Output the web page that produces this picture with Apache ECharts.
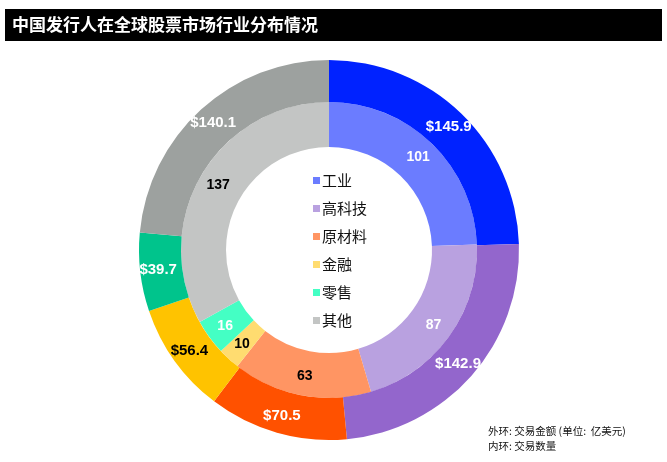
<!DOCTYPE html>
<html>
<head>
<meta charset="utf-8">
<script src="https://cdn.jsdelivr.net/npm/echarts@6/dist/echarts.min.js"></script>
<style>html,body{margin:0;padding:0;background:#fff}#c{width:667px;height:462px}</style>
</head>
<body>
<div id="c"></div>
<script>
const categories = ['工业', '高科技', '原材料', '金融', '零售', '其他'];
const outerValues = [145.9, 142.9, 70.5, 56.4, 39.7, 140.1];
const innerValues = [101, 87, 63, 10, 16, 137];
const outerColors = ['#0022ff', '#9366cc', '#ff5100', '#ffc300', '#00c48c', '#9da19f'];
const innerColors = ['#6b7cff', '#b9a1e0', '#ff9563', '#ffdc70', '#44ffc4', '#c3c5c4'];
const outerLabelColors = ['#fff', '#fff', '#fff', '#000', '#fff', '#fff'];
const innerLabelColors = ['#fff', '#fff', '#000', '#000', '#fff', '#000'];
const titleText = '中国发行人在全球股票市场行业分布情况';
const noteLines = ['外环: 交易金额 (单位:  亿美元)', '内环: 交易数量'];

const numFont = '"Liberation Sans", Arial, sans-serif';
const cjkFont = '"Noto Sans CJK SC", "Liberation Sans", sans-serif';
const center = [329, 250];

const chart = echarts.init(document.getElementById('c'), null, {renderer: 'canvas'});
chart.setOption({
  animation: false,
  backgroundColor: '#fff',
  legend: {
    orient: 'vertical',
    left: 308,
    top: 168,
    icon: 'rect',
    itemWidth: 7,
    itemHeight: 7,
    itemGap: 13,
    selectedMode: false,
    data: categories,
    textStyle: {fontFamily: cjkFont, fontSize: 15, color: '#111', padding: [0, 0, 0, -3]}
  },
  graphic: [
    {type: 'rect', shape: {x: 5, y: 9, width: 657, height: 32}, style: {fill: '#000'}},
    {type: 'text', x: 12, y: 25, style: {text: titleText, fill: '#fff', font: 'bold 17px ' + cjkFont, textVerticalAlign: 'middle'}},
    {type: 'text', x: 488, y: 431, style: {text: noteLines[0], fill: '#111', font: '10.5px ' + cjkFont, textVerticalAlign: 'middle'}},
    {type: 'text', x: 488, y: 446, style: {text: noteLines[1], fill: '#111', font: '10.5px ' + cjkFont, textVerticalAlign: 'middle'}}
  ],
  series: [
    {
      type: 'pie',
      name: 'inner',
      center: center,
      radius: [103, 148],
      startAngle: 90,
      clockwise: true,
      avoidLabelOverlap: false,
      emphasis: {disabled: true},
      itemStyle: {borderWidth: 0},
      label: {position: 'inside', fontFamily: numFont, fontSize: 14, fontWeight: 'bold'},
      labelLine: {show: false},
      data: categories.map((n, i) => ({
        name: n, value: innerValues[i],
        itemStyle: {color: innerColors[i]},
        label: {formatter: String(innerValues[i]), color: innerLabelColors[i]}
      }))
    },
    {
      type: 'pie',
      name: 'outer',
      center: center,
      radius: [148, 190],
      startAngle: 90,
      clockwise: true,
      avoidLabelOverlap: false,
      emphasis: {disabled: true},
      itemStyle: {borderWidth: 0},
      label: {position: 'inside', fontFamily: numFont, fontSize: 15, fontWeight: 'bold'},
      labelLine: {show: false},
      data: categories.map((n, i) => ({
        name: n, value: outerValues[i],
        itemStyle: {color: outerColors[i]},
        label: {formatter: '$' + outerValues[i].toFixed(1), color: outerLabelColors[i]}
      }))
    }
  ]
});
</script>
</body>
</html>
